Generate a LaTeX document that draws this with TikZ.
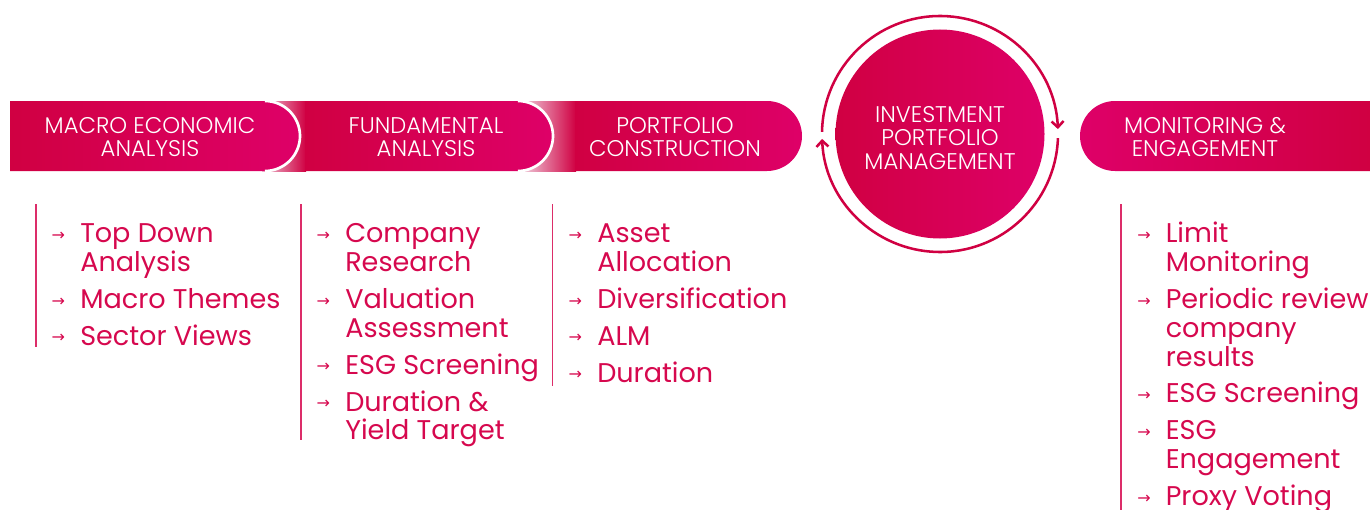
\documentclass[tikz,border=0pt]{standalone}
\usepackage{fontspec}
\setmainfont{Poppins}
\newfontfamily\lightfont{Poppins Light}
\newfontfamily\symfont{DejaVu Sans}
\usetikzlibrary{arrows.meta}
\usetikzlibrary{positioning, calc}

\definecolor{crim}{RGB}{208,0,66}
\definecolor{mag}{RGB}{222,0,104}
\definecolor{fade}{RGB}{238,192,210}
\definecolor{txtred}{RGB}{214,8,78}

\tikzstyle{hdr} = [text=white, align=center, inner sep=0pt, font=\lightfont\fontsize{17}{17.6}\selectfont]
\tikzstyle{item} = [text=txtred, align=left, anchor=base west, inner sep=0pt, font=\fontsize{20.3}{21.6}\selectfont]
\tikzstyle{vline} = [draw=txtred!85, line width=1.4pt]
\tikzstyle{ring} = [draw=crim, line width=1.9pt, -{Straight Barb[length=4.5pt,width=9pt]}]
\tikzstyle{ipmcirc} = [circle, minimum size=156.75pt, inner sep=0pt, left color=crim, right color=mag]

\newcommand{\bul}{\llap{\makebox[21.4pt][l]{\raisebox{1.8pt}{\symfont\fontsize{12}{12}\selectfont →}}}}

\begin{document}
\begin{tikzpicture}[x=0.75pt, y=-0.75pt]
    \useasboundingbox (0,0) rectangle (1370,510);

    % Bars
    \shade[left color=fade, right color=crim] (525,101) rectangle (576,171);
    \shade[left color=crim, right color=mag] (575,101) -- (767,101) arc[start angle=-90, end angle=90, radius=35] -- (575,171) -- cycle;
    \shade[left color=fade, right color=crim] (262,101) rectangle (306,171);
    \shade[left color=crim, right color=mag] (305,101) -- (518,101) arc[start angle=-90, end angle=90, radius=35] -- (305,171) -- cycle;
    \draw[white, line width=2pt] (518,101) arc[start angle=-90, end angle=90, radius=35];
    \shade[left color=crim, right color=mag] (10,101) -- (265,101) arc[start angle=-90, end angle=90, radius=35] -- (10,171) -- cycle;
    \draw[white, line width=2pt] (265,101) arc[start angle=-90, end angle=90, radius=35];
    \shade[left color=mag, right color=crim] (1370,101) -- (1115,101) arc[start angle=-90, end angle=-270, radius=35] -- (1370,171) -- cycle;

    % Headers
    \node (macro) [hdr] at (150,137) {MACRO ECONOMIC\\ANALYSIS};
    \node (fund) [hdr] at (426,137) {FUNDAMENTAL\\ANALYSIS};
    \node (constr) [hdr] at (675,137) {PORTFOLIO\\CONSTRUCTION};
    \node (monit) [hdr] at (1205,137) {MONITORING \&\\ENGAGEMENT};

    % Circle
    \node (ipm) [ipmcirc] at (940,134) {};
    \node (ipmtext) [hdr, yshift=-3pt] at (ipm.center) {INVESTMENT\\PORTFOLIO\\MANAGEMENT};
    \draw [ring] ([shift={(-179:118)}]ipm.center) arc[start angle=-179, end angle=-2.4, radius=118];
    \draw [ring] ([shift={(2:118)}]ipm.center) arc[start angle=2, end angle=177.6, radius=118];

    % Lists (y = baseline of last line)
    \draw [vline] (36,204) -- (36,347);
    \node (m1) [item] at (80,271.5) {\bul Top Down\\Analysis};
    \node (m2) [item] at (80,308.4) {\bul Macro Themes};
    \node (m3) [item] at (80,345.3) {\bul Sector Views};

    \draw [vline] (301,204) -- (301,440);
    \node (f1) [item] at (345,271.5) {\bul Company\\Research};
    \node (f2) [item] at (345,337.2) {\bul Valuation\\Assessment};
    \node (f3) [item] at (345,374.1) {\bul ESG Screening};
    \node (f4) [item] at (345,439.8) {\bul Duration \&\\Yield Target};

    \draw [vline] (552.5,204) -- (552.5,386);
    \node (c1) [item] at (597,271.5) {\bul Asset\\Allocation};
    \node (c2) [item] at (597,308.4) {\bul Diversification};
    \node (c3) [item] at (597,345.3) {\bul ALM};
    \node (c4) [item] at (597,382.2) {\bul Duration};

    \draw [vline] (1121,204) -- (1121,510);
    \node (e1) [item] at (1165.5,271.5) {\bul Limit\\Monitoring};
    \node (e2) [item] at (1165.5,366.0) {\bul Periodic review\\company\\results};
    \node (e3) [item] at (1165.5,402.9) {\bul ESG Screening};
    \node (e4) [item] at (1165.5,468.6) {\bul ESG\\Engagement};
    \node (e5) [item] at (1165.5,505.5) {\bul Proxy Voting};

\end{tikzpicture}
\end{document}
